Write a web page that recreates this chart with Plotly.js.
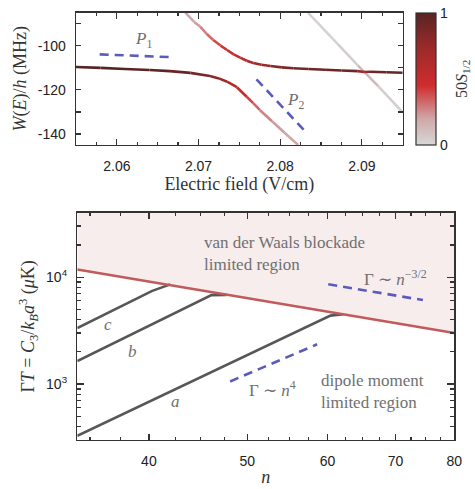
<!DOCTYPE html>
<html><head><meta charset="utf-8">
<script src="https://cdn.plot.ly/plotly-3.0.1.min.js"></script>
<style>html,body{margin:0;padding:0;background:#fff}</style>
</head><body><div id="plot" style="width:475px;height:489px"></div>
<script>
// ===== Top panel: Stark map near the avoided crossing =====
const upperField  = [2.0684, 2.0695, 2.0702, 2.0710, 2.0718, 2.0727, 2.0735, 2.0743, 2.0751, 2.0759, 2.0767, 2.0777, 2.0788, 2.0802, 2.0816, 2.0835, 2.0855, 2.0875, 2.0895, 2.0903, 2.0910, 2.0930, 2.0950];
const upperEnergy = [-85.0, -89.3, -91.3, -94.6, -97.4, -99.9, -101.9, -103.9, -105.4, -106.8, -107.8, -108.6, -109.2, -109.8, -110.2, -110.5, -110.9, -111.2, -111.5, -111.9, -111.8, -112.0, -112.2];
const upperS      = [0.18, 0.2, 0.24, 0.3, 0.36, 0.42, 0.46, 0.5, 0.54, 0.6, 0.66, 0.72, 0.78, 0.84, 0.88, 0.9, 0.92, 0.93, 0.9, 0.6, 0.9, 0.94, 0.95];

const lowerField  = [2.0550, 2.0580, 2.0610, 2.0640, 2.0665, 2.0690, 2.0714, 2.0725, 2.0735, 2.0747, 2.0759, 2.0767, 2.0775, 2.0790, 2.0805, 2.0822];
const lowerEnergy = [-109.6, -110.0, -110.5, -111.0, -111.5, -112.3, -113.7, -114.8, -116.3, -118.8, -123.1, -126.0, -129.1, -134.2, -139.3, -145.0];
const lowerS      = [1.0, 1.0, 1.0, 0.98, 0.96, 0.92, 0.84, 0.76, 0.66, 0.56, 0.44, 0.36, 0.3, 0.24, 0.2, 0.18];

const crossField  = [2.0834, 2.0870, 2.0895, 2.0905, 2.0920, 2.0950];
const crossEnergy = [-85.0, -99.0, -108.9, -112.6, -118.3, -130.2];
const crossS      = [0.03, 0.03, 0.06, 0.2, 0.05, 0.03];

const p1Field = [2.0579, 2.0670];
const p1Energy = [-103.9, -105.2];
const p2Field = [2.0771, 2.0830];
const p2Energy = [-115.2, -138.6];

// ===== Bottom panel: Gamma*T vs principal quantum number n =====
const boundaryN = [34, 80];
const boundaryT = [11800, 3000];
const curveAN = [34, 60.4, 62.2];
const curveAT = [328, 4365, 4500];
const curveBN = [34, 46.1, 47.7];
const curveBT = [1640, 6780, 6820];
const curveCN = [34, 40.3, 42.0];
const curveCT = [3335, 7430, 8550];
const n4N = [48.1, 58.6];
const n4T = [1058, 2355];
const n32N = [60.1, 74.5];
const n32T = [8570, 6100];

const topXTicks = [2.06, 2.07, 2.08, 2.09];
const topYTicks = [-140, -120, -100];
const botXTicks = [40, 50, 60, 70, 80];
const botXMinor = [35, 37.5, 42.5, 45, 47.5, 52.5, 55, 57.5, 62.5, 65, 67.5, 72.5, 75, 77.5];
const botYTicks = [1000, 10000];
const botYTickText = ['10<sup>3</sup>', '10<sup>4</sup>'];
const botYMinor = [400, 500, 600, 700, 800, 900, 2000, 3000, 4000, 5000, 6000, 7000, 8000, 9000, 20000, 30000];

// ===== styling =====
const W = 475, H = 489;
const colorscale = [[0, '#d8d8d8'], [0.2, '#cfa7a7'], [0.45, '#d02c2c'], [0.75, '#992a2a'], [1, '#572424']];
function hex2rgb(h) { return [1,3,5].map(i => parseInt(h.substr(i,2),16)); }
function scaleColor(v) {
  for (let i = 1; i < colorscale.length; i++) {
    if (v <= colorscale[i][0]) {
      const [a, ca] = colorscale[i-1], [b, cb] = colorscale[i];
      const t = (v - a) / (b - a), A = hex2rgb(ca), B = hex2rgb(cb);
      return 'rgb(' + A.map((c,k) => Math.round(c + (B[k]-c)*t)).join(',') + ')';
    }
  }
  return colorscale[colorscale.length-1][1];
}
const traces = [];
function gradientLine(xs, ys, ss) {
  for (let i = 0; i < xs.length - 1; i++) {
    traces.push({x: [xs[i], xs[i+1]], y: [ys[i], ys[i+1]], mode: 'lines', xaxis: 'x', yaxis: 'y',
      line: {color: scaleColor((ss[i]+ss[i+1])/2), width: 2.6}, hoverinfo: 'skip', showlegend: false});
  }
}
gradientLine(crossField, crossEnergy, crossS);
gradientLine(lowerField, lowerEnergy, lowerS);
gradientLine(upperField, upperEnergy, upperS);
const dashBlue = {color: '#5b5bbd', width: 2.6, dash: '9px,6px'};
traces.push({x: p1Field, y: p1Energy, mode: 'lines', line: dashBlue, xaxis: 'x', yaxis: 'y', showlegend: false});
traces.push({x: p2Field, y: p2Energy, mode: 'lines', line: dashBlue, xaxis: 'x', yaxis: 'y', showlegend: false});
// colorbar carrier
traces.push({x: upperField, y: upperEnergy, mode: 'markers', xaxis: 'x', yaxis: 'y', showlegend: false, hoverinfo: 'skip',
  marker: {size: 0.1, opacity: 0, color: upperS, cmin: 0, cmax: 1, colorscale: colorscale, showscale: true,
    colorbar: {x: 416/W, xanchor: 'left', y: 1 - (12.7+145)/2/H, yanchor: 'middle', len: 132.3/H, lenmode: 'fraction',
      thickness: 20, thicknessmode: 'pixels', outlinewidth: 1.2, outlinecolor: '#333', xpad: 0, ypad: 0,
      tickvals: [0, 1], ticktext: ['0', '1'], ticks: '', tickfont: {family: 'Liberation Sans', size: 14, color: '#222'}}}});

// bottom panel
const yTop = 40000;
traces.push({x: boundaryN.concat(boundaryN.slice().reverse()), y: boundaryT.concat([yTop, yTop]), mode: 'lines', fill: 'toself',
  fillcolor: '#f7eded', line: {width: 0}, xaxis: 'x2', yaxis: 'y2', showlegend: false, hoverinfo: 'skip'});
const greyLine = {color: '#575757', width: 2.6};
[[curveAN, curveAT], [curveBN, curveBT], [curveCN, curveCT]].forEach(([xs, ys]) =>
  traces.push({x: xs, y: ys, mode: 'lines', line: greyLine, xaxis: 'x2', yaxis: 'y2', showlegend: false}));
traces.push({x: boundaryN, y: boundaryT, mode: 'lines', line: {color: '#c25a5c', width: 2.6}, xaxis: 'x2', yaxis: 'y2', showlegend: false});
traces.push({x: n4N, y: n4T, mode: 'lines', line: dashBlue, xaxis: 'x2', yaxis: 'y2', showlegend: false});
traces.push({x: n32N, y: n32T, mode: 'lines', line: dashBlue, xaxis: 'x2', yaxis: 'y2', showlegend: false});

const tickFont = {family: 'Liberation Sans', size: 14, color: '#222'};
const titleFont = {family: 'Liberation Serif', size: 18, color: '#333'};
const axBase = {showgrid: false, zeroline: false, showline: true, linecolor: '#333', linewidth: 1.4, mirror: 'allticks',
  ticks: 'inside', ticklen: 5, tickwidth: 1.2, tickcolor: '#333', tickfont: tickFont, tickmode: 'array'};
const annFont = {family: 'Liberation Serif', size: 17, color: '#707070'};
const px = v => v / W, py = v => 1 - v / H;
function note(text, x, y, extra) {
  return Object.assign({text: text, x: px(x), y: py(y), xref: 'paper', yref: 'paper', showarrow: false,
    font: annFont, borderpad: 0, xanchor: 'left', yanchor: 'middle', align: 'left'}, extra || {});
}

const layout = {
  width: W, height: H, margin: {l: 0, r: 0, t: 0, b: 0}, paper_bgcolor: '#fff', plot_bgcolor: 'rgba(0,0,0,0)', showlegend: false,
  xaxis: Object.assign({}, axBase, {domain: [px(76), px(402.7)], range: [2.055, 2.095], anchor: 'y',
    tickvals: topXTicks, ticktext: topXTicks.map(v => v.toFixed(2)), ticklen: 6, ticklabelstandoff: 8,
    minor: {dtick: 0.0025, tick0: 2.06, ticks: 'inside', ticklen: 3, tickcolor: '#333', tickwidth: 1.2},
    title: {text: 'Electric field (V/cm)', font: titleFont, standoff: 2}}),
  yaxis: Object.assign({}, axBase, {domain: [py(145), py(12.7)], range: [-145, -85], anchor: 'x',
    tickvals: topYTicks, ticktext: topYTicks.map(v => '-' + Math.abs(v)), ticklabelstandoff: 6,
    minor: {dtick: 10, tick0: -140, ticks: 'inside', ticklen: 5, tickcolor: '#333', tickwidth: 1.2},
    title: {text: '<i>W</i>(<i>E</i>)/<i>h</i> (MHz)', font: titleFont, standoff: 6}}),
  xaxis2: Object.assign({}, axBase, {domain: [px(77.3), px(454.3)], type: 'log', range: [Math.log10(34), Math.log10(80)], anchor: 'y2',
    tickvals: botXTicks, ticktext: botXTicks.map(String), ticklen: 6, ticklabelstandoff: 8,
    minor: {tickmode: 'array', tickvals: botXMinor, ticks: 'inside', ticklen: 3, tickcolor: '#333', tickwidth: 1.2},
    title: {text: '<i>n</i>', font: titleFont, standoff: 2}}),
  yaxis2: Object.assign({}, axBase, {domain: [py(440), py(212.7)], type: 'log', range: [Math.log10(300), Math.log10(40000)], anchor: 'x2',
    tickvals: botYTicks, ticktext: botYTickText, ticklen: 7, ticklabelstandoff: 6,
    minor: {tickmode: 'array', tickvals: botYMinor, ticks: 'inside', ticklen: 4, tickcolor: '#333', tickwidth: 1.2},
    title: {text: 'Γ<i>T</i> = <i>C</i><sub>3</sub>/<i>k</i><sub><i>B</i></sub><i>a</i><sup>3</sup> (<i>μ</i>K)', font: titleFont, standoff: 6}}),
  annotations: [
    note('50<i>S</i><sub>1/2</sub>', 462, 79, {textangle: -90, xanchor: 'center', font: {family: 'Liberation Serif', size: 16, color: '#333'}}),
    note('<i>P</i><sub>1</sub>', 134, 40),
    note('<i>P</i><sub>2</sub>', 286, 101),
    note('<i>c</i>', 103, 324),
    note('<i>b</i>', 127, 351),
    note('<i>a</i>', 170, 401),
    note('van der Waals blockade<br>limited region', 203, 253.3),
    note('Γ ∼ <i>n</i><sup>−3/2</sup>', 363, 278),
    note('Γ ∼ <i>n</i><sup>4</sup>', 248, 389),
    note('dipole moment<br>limited region', 320, 391.7)
  ]
};
Plotly.newPlot('plot', traces, layout, {staticPlot: true});
</script></body></html>
